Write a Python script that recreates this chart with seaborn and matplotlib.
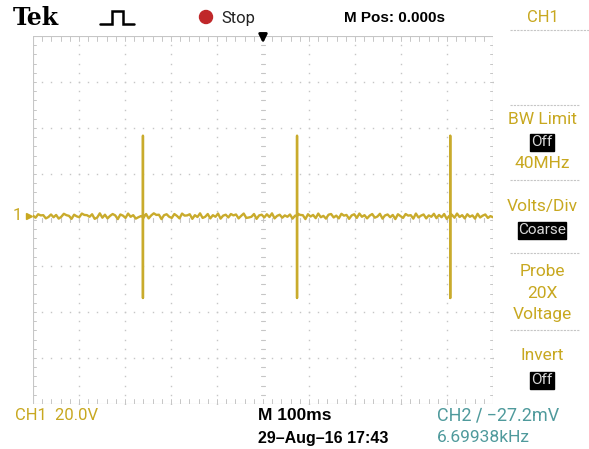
import numpy as np
import pandas as pd
import matplotlib
matplotlib.use("Agg")
import matplotlib.pyplot as plt
import seaborn as sns
from matplotlib.patches import Rectangle, Circle

# ---- acquisition settings ----
volts_per_div = 20.0          # CH1 20.0V
time_per_div = 100.0          # M 100ms
ground_offset_div = 0.08      # CH1 ground marker above screen centre

# pulse events on CH1 (time in ms, peak / trough in volts)
spike_times = [-261.0, 74.0, 407.0]
spike_high = [35.0, 35.0, 35.0]
spike_low = [-35.5, -35.5, -35.5]

# baseline ripple of the trace (volts), left to right across the screen
baseline_ripple = [
    0.3, -0.6, 0.9, 0.4, 0.5, -0.9, -0.3, 0.8, -0.4, 0.6,
    -1.0, -0.2, 1.1, 0.5, 0.2, -1.1, 0.7, 0.0, -0.4, 1.2,
    0.6, 0.5, -0.2, 0.9, -1.1, -0.5, 1.3, -0.6, 0.7, -0.9,
    0.2, 1.0, 0.4, -1.2, 0.8, 0.3, -0.7, 1.2, -0.2, 0.5,
    -1.0, -0.4, 0.1, -0.6, 1.0, -0.9, 0.4, 1.3, 0.6, 0.7,
    -1.2, 0.5, 0.9, -0.2, -0.7, 1.0, 0.2, -0.9, 1.2, 0.3,
    0.4, 0.9, -1.1, 0.5, -0.3, 1.3, -0.7, -0.2, 1.0, -0.9,
    0.5, -0.2, 1.2, -1.0, 0.3, 0.7, -0.5, 1.0, 0.4, 0.8,
    -0.9, 0.2, 1.2, -0.7, -0.5, -0.2, 1.0, -1.1, 0.4, 0.7,
    -0.5, 0.9, -0.3, 1.3, -0.9, 0.2, 0.7, -0.6, 0.4, -0.2,
    0.8, -1.0, 0.3, 1.1, 0.6, 0.5, -1.2, 0.9, -0.1, 0.6,
    -0.8, 1.2, -0.4, 0.2, -1.0, 0.7, 1.0, -0.5, 0.3, -0.9,
    1.1, 0.3, 0.6, -1.1, 0.4, 0.9, -0.7, 1.2, -0.2, 0.5,
    -0.9, 0.3, 1.0, -0.6, -0.1, 1.1, -1.0, 0.4, 0.8, -0.4,
    0.6, -1.2, 0.9, 0.1, -0.7, 1.0, 0.3, 0.5, -1.0, 1.2,
    -0.5, 0.3, 0.8, -0.9, 0.4, -0.2, 1.1, -0.8, 0.6, -0.4,
    1.0, -1.1, 0.2, 0.7, -0.6, 1.2, -0.3, 0.5, -0.9, 0.9,
    -0.2, 0.4, -1.0, 1.1, -0.5, 0.3, 0.8, -0.7, 0.1, -0.4,
]

# ---- colours ----
trace_col = "#c9ab2c"
ch1_col = "#c8a820"
ch2_col = "#4f9a9c"
grid_col = "#c6c6c6"

sns.set_theme(style="white")
plt.rcParams["font.family"] = ["Roboto", "DejaVu Sans"]
bold_family = ["Liberation Sans", "DejaVu Sans"]

W, H = 589, 449
fig = plt.figure(figsize=(W / 100, H / 100), dpi=100, facecolor="white")

# graticule area in pixels
gx0, gx1, gy0, gy1 = 33, 493, 36, 404
ax = fig.add_axes([gx0 / W, 1 - gy1 / H, (gx1 - gx0) / W, (gy1 - gy0) / H])
ax.set_xlim(-5, 5)
ax.set_ylim(-4, 4)
ax.axis("off")

# dotted graticule
for gxv in range(-4, 5):
    if gxv == 0:
        continue
    ax.plot([gxv] * 41, np.linspace(-4, 4, 41), ls="none", marker="s", ms=1.0,
            mew=0, color=grid_col, zorder=1)
for gyv in range(-3, 4):
    if gyv == 0:
        continue
    ax.plot(np.linspace(-5, 5, 51), [gyv] * 51, ls="none", marker="s", ms=1.0,
            mew=0, color=grid_col, zorder=1)
# centre crosshair drawn as minor tick marks
for yt in np.arange(-4, 4.01, 0.2):
    ax.plot([-0.05, 0.05], [yt, yt], color=grid_col, lw=0.8, zorder=1)
for xt in np.arange(-5, 5.01, 0.2):
    ax.plot([xt, xt], [-0.05, 0.05], color=grid_col, lw=0.8, zorder=1)
# border with minor ticks
ax.plot([-5, 5, 5, -5, -5], [-4, -4, 4, 4, -4], color=grid_col, lw=0.8, zorder=1)
for xt in np.arange(-5, 5.01, 0.2):
    ax.plot([xt, xt], [4, 3.9], color=grid_col, lw=0.7, zorder=1)
    ax.plot([xt, xt], [-4, -3.9], color=grid_col, lw=0.7, zorder=1)
for yt in np.arange(-4, 4.01, 0.2):
    ax.plot([-5, -4.93], [yt, yt], color=grid_col, lw=0.7, zorder=1)
    ax.plot([5, 4.93], [yt, yt], color=grid_col, lw=0.7, zorder=1)

# build trace: baseline samples plus vertical excursions at each event
n = len(baseline_ripple)
t_base = np.linspace(-500, 500, n)
rows = []
events = sorted(zip(spike_times, spike_high, spike_low))
ei = 0
for t, v in zip(t_base, baseline_ripple):
    while ei < len(events) and events[ei][0] <= t:
        st, hi, lo = events[ei]
        rows += [(st, 0.0), (st, hi), (st, lo), (st, 0.0)]
        ei += 1
    rows.append((t, v))
df = pd.DataFrame(rows, columns=["time_ms", "volts"])
df["x_div"] = df["time_ms"] / time_per_div
df["y_div"] = df["volts"] / volts_per_div + ground_offset_div
sns.lineplot(data=df, x="x_div", y="y_div", sort=False, estimator=None,
             color=trace_col, lw=1.7, ax=ax, zorder=3)

# overlay in pixel coordinates for the status text and menus
ov = fig.add_axes([0, 0, 1, 1], facecolor="none")
ov.set_xlim(0, W)
ov.set_ylim(H, 0)
ov.axis("off")

# top status bar
ov.text(13, 18, "Tek", family="DejaVu Serif", weight="bold", fontsize=17,
        color="black", va="center", ha="left")
ov.plot([100, 112, 112, 123, 123, 134], [24, 24, 11, 11, 24, 24], color="black",
        lw=1.8, solid_joinstyle="miter")
ov.add_patch(Circle((206, 17), 6.5, color="#c0282a"))
ov.text(221, 18, "Stop", fontsize=12, color="#222222", va="center", ha="left")
ov.text(395, 18, "M Pos: 0.000s", fontsize=11, weight="bold", color="black",
        va="center", ha="center", family=bold_family)
ov.text(543, 18, "CH1", fontsize=12, color=ch1_col, va="center", ha="center")
ov.plot([510, 589], [30, 30], color=grid_col, lw=0.8, ls=(0, (2, 1)))

# trigger position arrow
ov.annotate("", xy=(263, 46), xytext=(263, 32),
            arrowprops=dict(arrowstyle="-|>", color="black", lw=2,
                            mutation_scale=12))

# CH1 ground marker
ov.text(22, 216, "1", fontsize=12, color=ch1_col, va="center", ha="right")
ov.plot([29], [216], marker=">", ms=5, color=ch1_col)

# side menu
for sy in [105, 180, 253, 330]:
    ov.plot([510, 580], [sy, sy], color=grid_col, lw=0.8, ls=(0, (2, 1)))


def menu_text(y, s):
    ov.text(542, y, s, fontsize=12.5, color=ch1_col, va="center", ha="center")


def menu_box(y, s, w):
    ov.add_patch(Rectangle((542 - w / 2, y - 8.5), w, 17, color="black"))
    ov.text(542, y, s, fontsize=11, color="#d8d8d8", va="center", ha="center")


menu_text(120, "BW Limit")
menu_box(142, "Off", 24)
menu_text(163, "40MHz")
menu_text(207, "Volts/Div")
menu_box(230, "Coarse", 48)
menu_text(271, "Probe")
menu_text(293, "20X")
menu_text(315, "Voltage")
menu_text(356, "Invert")
menu_box(380, "Off", 24)

# bottom status bar
ov.text(15, 415, "CH1  20.0V", fontsize=12, color=ch1_col, va="center", ha="left")
ov.text(258, 415, "M 100ms", fontsize=12.5, weight="bold", color="black",
        va="center", ha="left", family=bold_family)
ov.text(258, 438, "29\u2013Aug\u201316 17:43", fontsize=11.5, weight="bold",
        color="black", va="center", ha="left", family=bold_family)
ov.text(437, 415, "CH2 \u2215 \u221227.2mV", fontsize=13, color=ch2_col,
        va="center", ha="left")
ov.text(437, 438, "6.69938kHz", fontsize=12.5, color=ch2_col, va="center", ha="left")

fig.savefig("out.png", dpi=100, facecolor="white")
